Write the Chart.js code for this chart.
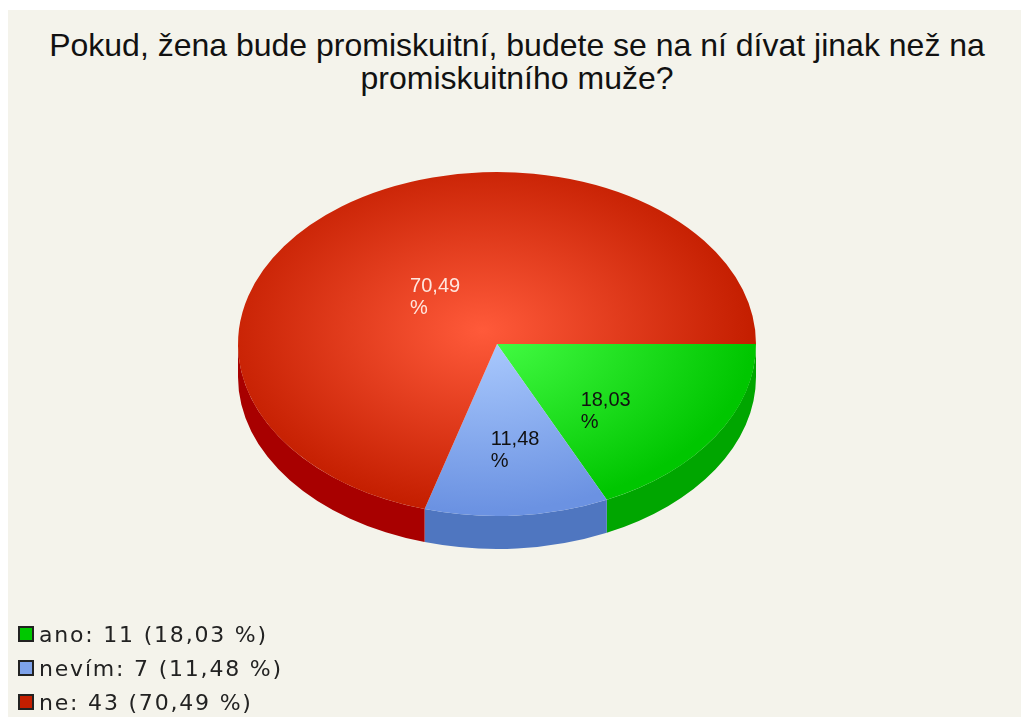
<!DOCTYPE html>
<html>
<head>
<meta charset="utf-8">
<script src="https://cdn.jsdelivr.net/npm/chart.js@4/dist/chart.umd.min.js"></script>
<style>
  body { margin: 0; width: 1024px; height: 717px; overflow: hidden; position: relative; background: #fff; font-family: "Liberation Sans", Arial, sans-serif; }
  #panel { position: absolute; left: 8px; top: 10px; right: 3px; bottom: 0; background: #f4f3eb; }
  #title { position: absolute; left: 5px; top: 29px; width: 1024px; text-align: center; font-size: 32px; line-height: 33px; color: #111; }
  #chart { position: absolute; left: 0; top: 0; }
  #legend { position: absolute; left: 18px; top: 617px; font-family: "DejaVu Sans", sans-serif; font-size: 22px; letter-spacing: 1.8px; color: #222; }
  .row { height: 34px; display: flex; align-items: center; }
  .sw { width: 12px; height: 12px; border: 2px solid #222; margin-right: 5px; }
</style>
</head>
<body>
<div id="panel"></div>
<div id="title">Pokud, žena bude promiskuitní, budete se na ní dívat jinak než na<br>promiskuitního muže?</div>
<canvas id="chart" width="1024" height="717"></canvas>
<div id="legend"></div>
<script>
// data
const labels = ['ano', 'nevím', 'ne'];
const counts = [11, 7, 43];
const percents = ['18,03', '11,48', '70,49'];

// colours: [light, dark] for the top face, side colour, legend swatch
const topColors = [['#48ff48', '#00c600'], ['#aecdff', '#6b92e2'], ['#ff5a3a', '#c41e00']];
const sideColors = ['#00a600', '#4f76c0', '#a80000'];
const swatchColors = ['#00c800', '#7ea2ea', '#c41e00'];
const labelColors = ['#111', '#111', '#ffe6de'];

const tilt = 0.664;   // vertical squash of the pie
const depth = 33;     // thickness of the 3d rim

const legend = document.getElementById('legend');
labels.forEach((l, i) => {
  const row = document.createElement('div');
  row.className = 'row';
  row.innerHTML = '<span class="sw" style="background:' + swatchColors[i] + '"></span>' +
    '<span>' + l + ': ' + counts[i] + ' (' + percents[i] + ' %)</span>';
  legend.appendChild(row);
});

function faceColor(ctx) {
  const area = ctx.chart.chartArea;
  const c = topColors[ctx.dataIndex];
  if (!area) return c[1];
  const cx = (area.left + area.right) / 2;
  const cy = (area.top + area.bottom) / 2;
  const r = Math.min(area.right - area.left, area.bottom - area.top) / 2;
  const g = ctx.chart.ctx.createRadialGradient(cx - 15, cy - 20, 0, cx - 15, cy - 20, r * 1.05);
  g.addColorStop(0, c[0]);
  g.addColorStop(1, c[1]);
  return g;
}

const pie3d = {
  id: 'pie3d',
  beforeDatasetsDraw(chart) {
    const ctx = chart.ctx;
    const arcs = chart.getDatasetMeta(0).data;
    // rim first, below the top face
    arcs.forEach((arc, i) => {
      const rx = arc.outerRadius, ry = arc.outerRadius * tilt;
      [0, Math.PI * 2].forEach(base => {
        const a1 = Math.max(arc.startAngle, base);
        const a2 = Math.min(arc.endAngle, base + Math.PI);
        if (a2 <= a1) return;
        ctx.beginPath();
        ctx.ellipse(arc.x, arc.y, rx, ry, 0, a1, a2);
        ctx.ellipse(arc.x, arc.y + depth, rx, ry, 0, a2, a1, true);
        ctx.closePath();
        ctx.fillStyle = sideColors[i];
        ctx.fill();
      });
    });
    const a = arcs[0];
    ctx.save();
    ctx.translate(a.x, a.y);
    ctx.scale(1, tilt);
    ctx.translate(-a.x, -a.y);
  },
  afterDatasetsDraw(chart) {
    const ctx = chart.ctx;
    ctx.restore();
    const arcs = chart.getDatasetMeta(0).data;
    ctx.font = '20px "Liberation Sans"';
    ctx.textBaseline = 'alphabetic';
    ctx.textAlign = 'left';
    arcs.forEach((arc, i) => {
      const mid = (arc.startAngle + arc.endAngle) / 2;
      const r = arc.outerRadius;
      const bx = arc.x + Math.cos(mid) * r * 0.456 + 9;
      const by = arc.y + Math.sin(mid) * r * tilt * 0.493 + 20;
      const w = ctx.measureText(percents[i]).width;
      ctx.fillStyle = labelColors[i];
      ctx.fillText(percents[i], bx - w / 2, by - 4);
      ctx.fillText('%', bx - w / 2, by + 18);
    });
  }
};

new Chart(document.getElementById('chart'), {
  type: 'pie',
  data: {
    labels: labels,
    datasets: [{
      data: counts,
      backgroundColor: faceColor,
      borderWidth: 0,
      hoverOffset: 0
    }]
  },
  options: {
    responsive: false,
    animation: false,
    rotation: 90,
    layout: { padding: { left: 238, right: 268, top: 85, bottom: 114 } },
    plugins: {
      legend: { display: false },
      tooltip: { enabled: false }
    }
  },
  plugins: [pie3d]
});
</script>
</body>
</html>
